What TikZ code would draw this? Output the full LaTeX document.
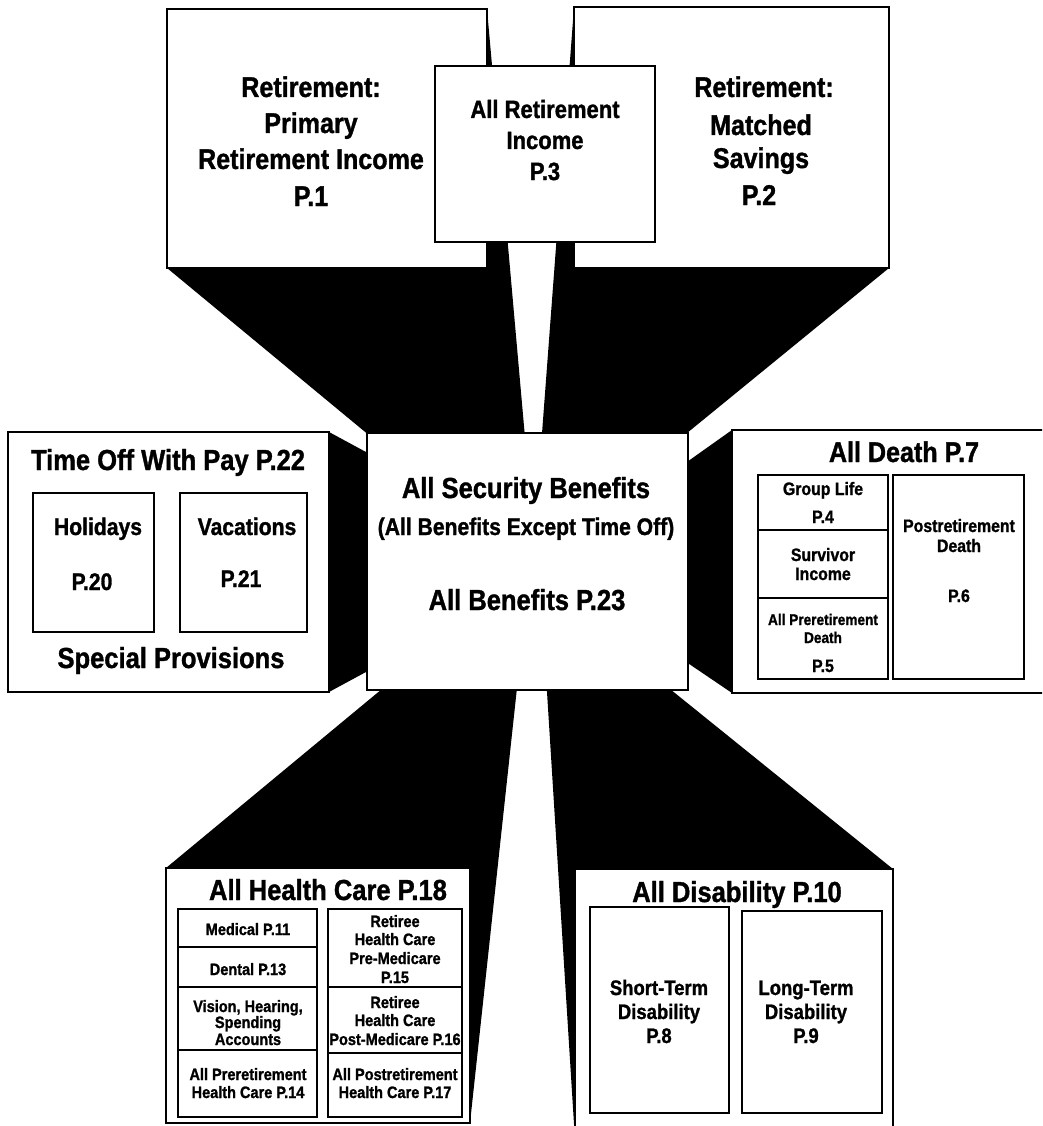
\documentclass[tikz,border=0pt]{standalone}
\usepackage{fontspec}
\setmainfont{Liberation Sans}[FakeStretch=0.88,BoldFeatures={FakeBold=1.2}]
\newcommand\myfs[1]{\fontsize{#1}{#1}\selectfont}
\begin{document}
\begin{tikzpicture}[x=1pt,y=-1pt,
  wedge/.style={fill=black,draw=none},
  box/.style={draw=black,line width=1.7pt,fill=white,inner sep=0pt,outer sep=0pt,anchor=north west},
  cell/.style={draw=black,line width=1.3pt,fill=white,inner sep=0pt,outer sep=0pt,anchor=north west},
  lbl/.style={inner sep=0pt,anchor=base,font=\bfseries\myfs{#1}},
  lbl/.default=16.5]
\useasboundingbox (0,0) rectangle (1042,1126);
\fill[white] (0,0) rectangle (1042,1126);
\clip (0,0) rectangle (1042,1126);

% perspective wedges
\fill[wedge] (167,9) -- (487,9) -- (527,460) -- (399,460) -- (167,268) -- cycle;
\fill[wedge] (574,7) -- (889,7) -- (889,268) -- (654,460) -- (540,460) -- cycle;
\fill[wedge] (8,432) -- (329,432) -- (390,465) -- (390,659) -- (329,692) -- (8,692) -- cycle;
\fill[wedge] (732,430) -- (670,474) -- (670,651) -- (732,693) -- cycle;
\fill[wedge] (166,868) -- (417,660) -- (520,660) -- (470,1123) -- (166,1123) -- cycle;
\fill[wedge] (575,1140) -- (545,660) -- (634,660) -- (893,869) -- (893,1140) -- cycle;

% top boxes
\node[box,minimum width=320,minimum height=259] (p1) at (167,9) {};
\node[box,minimum width=315,minimum height=261] (p2) at (574,7) {};
\node[box,minimum width=220,minimum height=176] (p3) at (435,66) {};

% side and bottom boxes
\node[box,minimum width=321,minimum height=260] (toff) at (8,432) {};
\node[cell,minimum width=121,minimum height=139] (hol) at (33,493) {};
\node[cell,minimum width=127,minimum height=139] (vac) at (180,493) {};

\node[box,minimum width=330,minimum height=263] (death) at (732,430) {};
\node[cell,minimum width=130,minimum height=55] (dl1) at (758,475) {};
\node[cell,minimum width=130,minimum height=68] (dl2) at (758,530) {};
\node[cell,minimum width=130,minimum height=81] (dl3) at (758,598) {};
\node[cell,minimum width=131,minimum height=204] (dr) at (893,475) {};

\node[box,minimum width=304,minimum height=255] (health) at (166,868) {};
\node[cell,minimum width=139,minimum height=38] (hl1) at (178,909) {};
\node[cell,minimum width=139,minimum height=40] (hl2) at (178,947) {};
\node[cell,minimum width=139,minimum height=63] (hl3) at (178,987) {};
\node[cell,minimum width=139,minimum height=67] (hl4) at (178,1050) {};
\node[cell,minimum width=134,minimum height=78] (hr1) at (328,909) {};
\node[cell,minimum width=134,minimum height=66] (hr2) at (328,987) {};
\node[cell,minimum width=134,minimum height=64] (hr3) at (328,1053) {};

\node[box,minimum width=318,minimum height=280] (dis) at (575,869) {};
\node[cell,minimum width=139,minimum height=206] (st) at (590,907) {};
\node[cell,minimum width=140,minimum height=202] (lt) at (742,911) {};

\node[box,minimum width=321,minimum height=257] (center) at (367,433) {};

% texts: top
\node[lbl=28.5] (p1a) at (311,97) {Retirement:};
\node[lbl=28.5] (p1b) at (311,133) {Primary};
\node[lbl=28.5] (p1c) at (311,169) {Retirement Income};
\node[lbl=28.5] (p1d) at (311,206) {P.1};
\node[lbl=25] (p3a) at (545,118) {All Retirement};
\node[lbl=25] (p3b) at (545,149) {Income};
\node[lbl=25] (p3c) at (545,180) {P.3};
\node[lbl=28.5] (p2a) at (764,97) {Retirement:};
\node[lbl=28.5] (p2b) at (761,135) {Matched};
\node[lbl=28.5] (p2c) at (761,168) {Savings};
\node[lbl=28.5] (p2d) at (759,205) {P.2};

% center
\node[lbl=29] (c1) at (526,498) {All Security Benefits};
\node[lbl=24] (c2) at (526,535) {(All Benefits Except Time Off)};
\node[lbl=29] (c3) at (527,610) {All Benefits P.23};

% time off
\node[lbl=29] (t1) at (168,470) {Time Off With Pay P.22};
\node[lbl=24] (t2) at (98,535) {Holidays};
\node[lbl=24] (t3) at (92,590) {P.20};
\node[lbl=24] (t4) at (247,535) {Vacations};
\node[lbl=24] (t5) at (241,587) {P.21};
\node[lbl=29] (t6) at (171,668) {Special Provisions};

% death
\node[lbl=28.5] (d0) at (904,462) {All Death P.7};
\node[lbl=18] (d1) at (823,495) {Group Life};
\node[lbl=18] (d2) at (823,523) {P.4};
\node[lbl=18] (d3) at (823,561) {Survivor};
\node[lbl=18] (d4) at (823,580) {Income};
\node[lbl=15.5] (d5) at (823,625) {All Preretirement};
\node[lbl=15.5] (d6) at (823,643) {Death};
\node[lbl=18] (d7) at (823,672) {P.5};
\node[lbl=18] (d8) at (959,532) {Postretirement};
\node[lbl=18] (d9) at (959,552) {Death};
\node[lbl=18] (d10) at (959,602) {P.6};

% health
\node[lbl=29] (h0) at (328,900) {All Health Care P.18};
\node[lbl] (h1) at (248,935) {Medical P.11};
\node[lbl] (h2) at (248,975) {Dental P.13};
\node[lbl] (h3) at (248,1012) {Vision, Hearing,};
\node[lbl] (h4) at (248,1028) {Spending};
\node[lbl] (h5) at (248,1045) {Accounts};
\node[lbl] (h6) at (248,1080) {All Preretirement};
\node[lbl] (h7) at (248,1098) {Health Care P.14};
\node[lbl] (h8) at (395,927) {Retiree};
\node[lbl] (h9) at (395,945) {Health Care};
\node[lbl] (h10) at (395,964) {Pre-Medicare};
\node[lbl] (h11) at (395,983) {P.15};
\node[lbl] (h12) at (395,1008) {Retiree};
\node[lbl] (h13) at (395,1026) {Health Care};
\node[lbl] (h14) at (395,1045) {Post-Medicare P.16};
\node[lbl] (h15) at (395,1080) {All Postretirement};
\node[lbl] (h16) at (395,1098) {Health Care P.17};

% disability
\node[lbl=29] (s0) at (737,902) {All Disability P.10};
\node[lbl=21] (s1) at (659,995) {Short-Term};
\node[lbl=21] (s2) at (659,1019) {Disability};
\node[lbl=21] (s3) at (659,1043) {P.8};
\node[lbl=21] (s4) at (806,995) {Long-Term};
\node[lbl=21] (s5) at (806,1019) {Disability};
\node[lbl=21] (s6) at (806,1043) {P.9};
\end{tikzpicture}
\end{document}
